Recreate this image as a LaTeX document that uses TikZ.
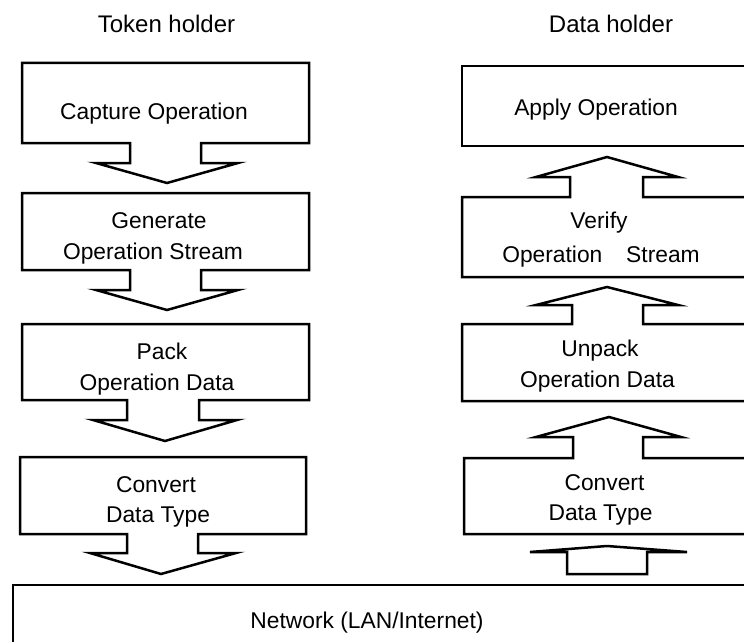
\documentclass[tikz,border=0pt]{standalone}
\usepackage{fontspec}
\setmainfont{Liberation Sans}
\begin{document}
\begin{tikzpicture}[x=1pt,y=-1pt,line width=2.5pt,line join=miter,
  lbl/.style={font=\fontsize{22.8}{28}\selectfont,inner sep=0pt,anchor=base},
  ttl/.style={font=\fontsize{24}{28}\selectfont,inner sep=0pt,anchor=base},
  shp/.style={draw=black,fill=white}]
\useasboundingbox (0,0) rectangle (744,642);
\clip (0,0) rectangle (744,642);
% titles
\node[ttl] (tTok) at (166.5,33) {Token holder};
\node[ttl] (tDat) at (611,33) {Data holder};
% left column (down arrows)
\draw[shp] (22,63) -- (309,63) -- (309,143) -- (201,143) -- (201,163) -- (238,163) -- (167,183) -- (96,163) -- (130,163) -- (130,143) -- (22,143) -- cycle;
\draw[shp] (22,193) -- (309,193) -- (309,270) -- (201,270) -- (201,290) -- (238,290) -- (167,310) -- (96,290) -- (130,290) -- (130,270) -- (22,270) -- cycle;
\draw[shp] (22,324) -- (309,324) -- (309,400) -- (199,400) -- (199,420) -- (237,420) -- (165,441) -- (93,420) -- (127,420) -- (127,400) -- (22,400) -- cycle;
\draw[shp] (20,457) -- (306,457) -- (306,534) -- (198,534) -- (198,553) -- (236,553) -- (161,574) -- (90,553) -- (127,553) -- (127,534) -- (20,534) -- cycle;
% right column (up arrows)
\draw[shp] (462,66) -- (760,66) -- (760,146) -- (462,146) -- cycle;
\draw[shp] (462,197) -- (570,197) -- (570,177) -- (536,177) -- (607,157) -- (678,177) -- (643,177) -- (643,197) -- (760,197) -- (760,277) -- (462,277) -- cycle;
\draw[shp] (462,324) -- (572,324) -- (572,305) -- (536,305) -- (607,287) -- (678,305) -- (643,305) -- (643,324) -- (760,324) -- (760,401) -- (462,401) -- cycle;
\draw[shp] (464,458) -- (573,458) -- (573,437) -- (536,437) -- (609,417) -- (681,437) -- (643,437) -- (643,458) -- (760,458) -- (760,534) -- (464,534) -- cycle;
\draw[shp] (567,574) -- (567,552) -- (530,552) -- (607,546) -- (687,552) -- (647,552) -- (647,574) -- cycle;
% network
\draw[shp] (13,585) rectangle (760,665);
% labels
\node[lbl] (l1) at (154,119) {Capture Operation};
\node[lbl] (l2a) at (159,228) {Generate};
\node[lbl] (l2b) at (153,259) {Operation Stream};
\node[lbl] (l3a) at (162,359) {Pack};
\node[lbl] (l3b) at (157,390) {Operation Data};
\node[lbl] (l4a) at (156,492) {Convert};
\node[lbl] (l4b) at (158,522) {Data Type};
\node[lbl] (r1) at (596,115) {Apply Operation};
\node[lbl] (r2a) at (599,228) {Verify};
\node[lbl] (r2b) at (601,262) {Operation\hspace{17.5pt} Stream};
\node[lbl] (r3a) at (600,356) {Unpack};
\node[lbl] (r3b) at (597.5,387) {Operation Data};
\node[lbl] (r4a) at (604.5,490) {Convert};
\node[lbl] (r4b) at (600.5,520) {Data Type};
\node[lbl] (net) at (367,628) {Network (LAN/Internet)};
\end{tikzpicture}
\end{document}
